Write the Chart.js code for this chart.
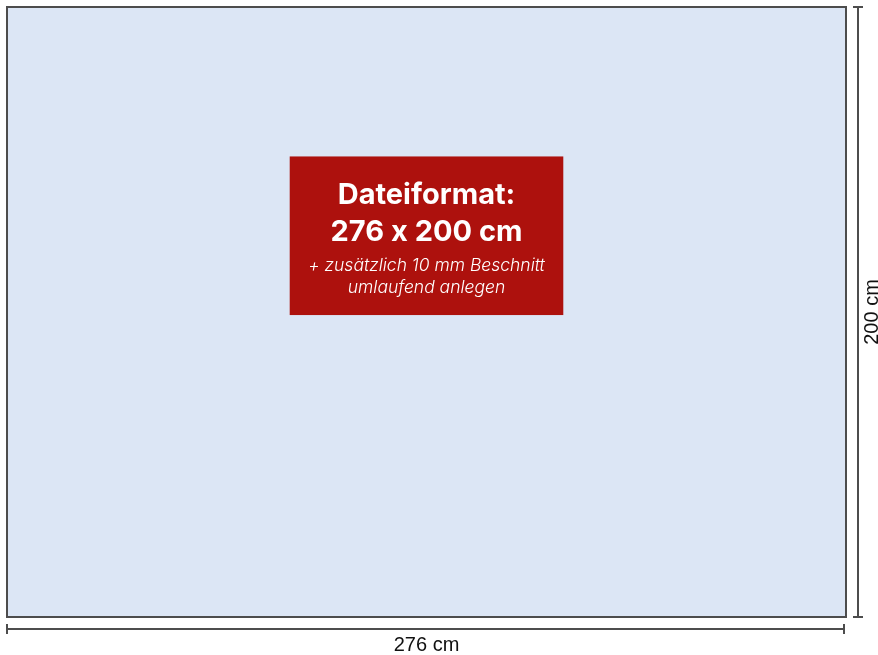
<!DOCTYPE html>
<html>
<head>
<meta charset="utf-8">
<script src="https://cdn.jsdelivr.net/npm/chart.js@4"></script>
<style>
  html, body { margin: 0; padding: 0; background: #fff; }
  #wrap { width: 878px; height: 655px; }
</style>
</head>
<body>
<div id="wrap"><canvas id="chart"></canvas></div>
<script>
// format in cm: width, height
const formatWidth = [276];
const formatHeight = [200];
// info box in cm (x from, x to, y from, y to)
const boxX = [93, 183];
const boxY = [99, 151];
const titleLines = ['Dateiformat:', '276 x 200 cm'];
const noteLines = ['+ zusätzlich 10 mm Beschnitt', 'umlaufend anlegen'];

const COLORS = {
  sheet: '#dce6f5', border: '#4d4d4d', box: '#ad110d', dim: '#4d4d4d', text: '#111',
};

const sheetPlugin = {
  id: 'sheet',
  beforeDraw(chart) {
    const { ctx, scales: { x, y } } = chart;
    const l = x.getPixelForValue(0), r = x.getPixelForValue(formatWidth[0]);
    const t = y.getPixelForValue(formatHeight[0]), b = y.getPixelForValue(0);
    ctx.save();
    ctx.fillStyle = COLORS.sheet;
    ctx.fillRect(l, t, r - l, b - t);
    ctx.strokeStyle = COLORS.border;
    ctx.lineWidth = 2;
    ctx.strokeRect(l, t, r - l, b - t);

    // info box
    const bl = x.getPixelForValue(boxX[0]), br = x.getPixelForValue(boxX[1]);
    const bt = y.getPixelForValue(boxY[1]), bb = y.getPixelForValue(boxY[0]);
    ctx.fillStyle = COLORS.box;
    ctx.fillRect(bl, bt, br - bl, bb - bt);
    const cx = (bl + br) / 2;
    ctx.fillStyle = '#fff';
    ctx.textAlign = 'center';
    ctx.textBaseline = 'middle';
    ctx.font = "bold 29px Inter, sans-serif";
    ctx.fillText(titleLines[0], cx, bt + 39);
    ctx.fillText(titleLines[1], cx, bt + 76);
    ctx.font = "italic 300 17.5px Inter, sans-serif";
    ctx.fillText(noteLines[0], cx, bt + 109);
    ctx.fillText(noteLines[1], cx, bt + 131);

    // dimension lines
    ctx.strokeStyle = COLORS.dim;
    ctx.lineWidth = 2;
    const hy = b + 12;
    ctx.beginPath();
    ctx.moveTo(l, hy); ctx.lineTo(r - 2, hy);
    ctx.moveTo(l, hy - 5); ctx.lineTo(l, hy + 5);
    ctx.moveTo(r - 2, hy - 5); ctx.lineTo(r - 2, hy + 5);
    const vx = r + 12;
    ctx.moveTo(vx, t); ctx.lineTo(vx, b);
    ctx.moveTo(vx - 5, t); ctx.lineTo(vx + 5, t);
    ctx.moveTo(vx - 5, b); ctx.lineTo(vx + 5, b);
    ctx.stroke();

    ctx.fillStyle = COLORS.text;
    ctx.font = "20px 'Liberation Sans', Arial, sans-serif";
    ctx.fillText(formatWidth[0] + ' cm', (l + r) / 2, hy + 16);
    ctx.translate(vx + 14, (t + b) / 2);
    ctx.rotate(-Math.PI / 2);
    ctx.fillText(formatHeight[0] + ' cm', 0, 0);
    ctx.restore();
  }
};

new Chart(document.getElementById('chart'), {
  type: 'scatter',
  data: { datasets: [{ data: [] }] },
  options: {
    responsive: true, maintainAspectRatio: false, animation: false,
    layout: { padding: { left: 7, top: 7, right: 32, bottom: 38 } },
    plugins: { legend: { display: false }, tooltip: { enabled: false } },
    scales: {
      x: { type: 'linear', min: 0, max: formatWidth[0], display: false },
      y: { type: 'linear', min: 0, max: formatHeight[0], display: false },
    },
  },
  plugins: [sheetPlugin],
});
</script>
</body>
</html>
